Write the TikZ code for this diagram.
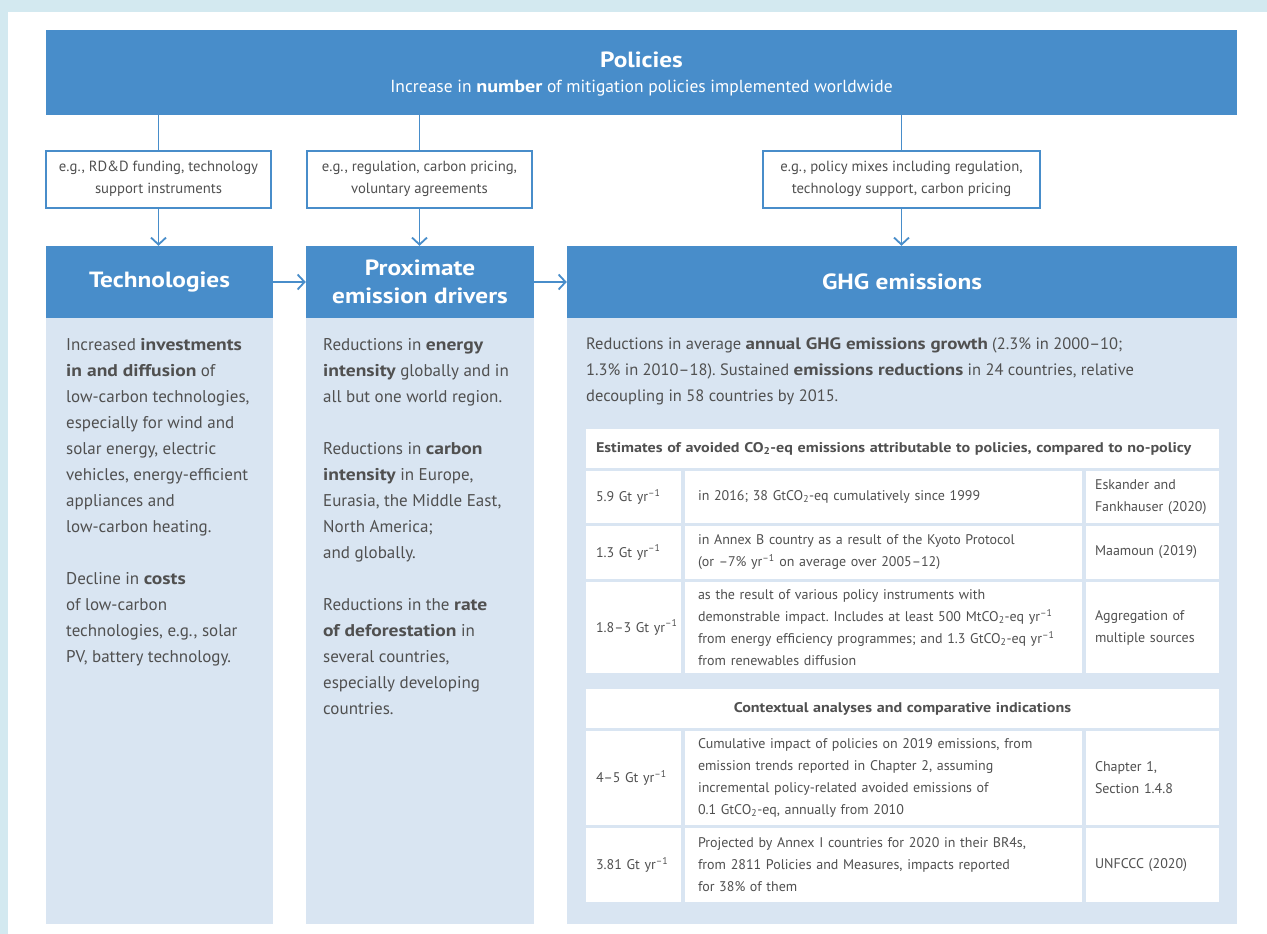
\documentclass[tikz,border=0pt]{standalone}
\usepackage{fontspec}
\setmainfont{PT Sans}[BoldFeatures={FakeStretch=1.15}]
\usetikzlibrary{arrows.meta}
\definecolor{hdrblue}{RGB}{72,141,202}
\definecolor{paleblue}{RGB}{217,229,242}
\definecolor{framebg}{RGB}{211,233,240}
\definecolor{txtgrey}{RGB}{80,80,80}
\newcommand{\yrinv}{yr\textsuperscript{–1}}
\newcommand{\cotwo}{CO\textsubscript{2}}
\frenchspacing

\begin{document}
\begin{tikzpicture}[x=1pt,y=-1pt,
  bar/.style={fill=hdrblue, inner sep=0pt},
  head/.style={bar, text=white, font=\bfseries\fontsize{22}{28}\selectfont, align=center},
  colbody/.style={fill=paleblue, inner sep=0pt},
  egbox/.style={draw=hdrblue, line width=2pt, fill=white, text=txtgrey, align=center,
    font=\fontsize{14.7}{22}\selectfont, minimum height=57pt, inner sep=0pt},
  bodytext/.style={anchor=north west, inner sep=0pt, align=left, text=txtgrey,
    font=\fontsize{17}{26}\selectfont},
  cell/.style={fill=white, text=txtgrey, align=left, inner ysep=0pt,
    font=\fontsize{14}{22}\selectfont},
  ca/.style={cell, text width=75pt, inner xsep=10pt, minimum height=#1},
  cb/.style={cell, text width=371pt, inner xsep=13pt, minimum height=#1},
  cc/.style={cell, text width=115pt, inner xsep=9pt, minimum height=#1},
  link/.style={draw=hdrblue, line width=1.8pt},
  flow/.style={link, -{Straight Barb[length=7pt,width=15pt]}}
]
\useasboundingbox (0,0) rectangle (1267,934);
\fill[framebg] (0,0) rectangle (1267,934);
\fill[white] (8,12) rectangle (1267,934);

% policies bar
\node[bar, minimum width=1191pt, minimum height=85pt] (pol) at (641.5,72.5) {};
\node[text=white, font=\bfseries\fontsize{22}{26}\selectfont] (poltitle) at (641.5,60) {Policies};
\node[text=white, font=\fontsize{17.5}{20}\selectfont] (polsub) at (641.5,88)
  {Increase in \textbf{number} of mitigation policies implemented worldwide};

% instrument examples
\node[egbox, minimum width=225pt] (eg1) at (158.5,179) {e.g., RD\&D funding, technology\\support instruments};
\node[egbox, minimum width=225pt] (eg2) at (419.5,179) {e.g., regulation, carbon pricing,\\voluntary agreements};
\node[egbox, minimum width=277pt] (eg3) at (901.5,179) {e.g., policy mixes including regulation,\\technology support, carbon pricing};

% column heads and bodies
\node[head, minimum width=227pt, minimum height=72pt] (tech) at (159.5,282) {Technologies};
\node[head, minimum width=228pt, minimum height=72pt] (prox) at (420,282) {Proximate\\emission drivers};
\node[head, minimum width=670pt, minimum height=72pt] (ghg) at (902,282) {GHG emissions};
\node[colbody, minimum width=227pt, minimum height=606pt] (techbody) at (159.5,621) {};
\node[colbody, minimum width=228pt, minimum height=606pt] (proxbody) at (420,621) {};
\node[colbody, minimum width=670pt, minimum height=606pt] (ghgbody) at (902,621) {};

\draw[link] (pol.south -| eg1.north) -- (eg1.north);
\draw[link] (pol.south -| eg2.north) -- (eg2.north);
\draw[link] (pol.south -| eg3.north) -- (eg3.north);
\draw[flow] (eg1.south) -- (eg1.south |- tech.north);
\draw[flow] (eg2.south) -- (eg2.south |- prox.north);
\draw[flow] (eg3.south) -- (eg3.south |- ghg.north);
\draw[flow] (tech.east) -- (prox.west);
\draw[flow] (prox.east) -- (ghg.west);

\node[bodytext] (techtext) at (66,338) {Increased \textbf{investments}\\
\textbf{in and diffusion} of\\
low-carbon technologies,\\
especially for wind and\\
solar energy, electric\\
vehicles, energy-efficient\\
appliances and\\
low-carbon heating.\\[26pt]
Decline in \textbf{costs}\\
of low-carbon\\
technologies, e.g., solar\\
PV, battery technology.};

\node[bodytext] (proxtext) at (323,338) {Reductions in \textbf{energy}\\
\textbf{intensity} globally and in\\
all but one world region.\\[26pt]
Reductions in \textbf{carbon}\\
\textbf{intensity} in Europe,\\
Eurasia, the Middle East,\\
North America;\\
and globally.\\[26pt]
Reductions in the \textbf{rate}\\
\textbf{of deforestation} in\\
several countries,\\
especially developing\\
countries.};

\node[bodytext, font=\fontsize{16.5}{26}\selectfont] (ghgtext) at (586,338) {Reductions in average \textbf{annual GHG emissions growth} (2.3\% in 2000--10;\\
1.3\% in 2010--18). Sustained \textbf{emissions reductions} in 24 countries, relative\\
decoupling in 58 countries by 2015.};

% table of avoided emissions
\node[cell, text width=613pt, inner xsep=10pt, minimum height=39pt, font=\bfseries\fontsize{14}{22}\selectfont] (esthead) at (902.5,448.5)
  {Estimates of avoided \cotwo-eq emissions attributable to policies, compared to no-policy};
\node[ca=52pt] (r1a) at (633.5,497) {\mbox{5.9 Gt \yrinv}};
\node[cb=52pt] (r1b) at (883.5,497) {in 2016; 38 Gt\cotwo-eq cumulatively since 1999};
\node[cc=52pt] (r1c) at (1152.5,497) {Eskander and\\Fankhauser (2020)};
\node[ca=53pt] (r2a) at (633.5,552.5) {\mbox{1.3 Gt \yrinv}};
\node[cb=53pt] (r2b) at (883.5,552.5) {in Annex B country as a result of the Kyoto Protocol\\(or –7\% \yrinv{} on average over 2005--12)};
\node[cc=53pt] (r2c) at (1152.5,552.5) {Maamoun (2019)};
\node[ca=91pt] (r3a) at (633.5,627.5) {\mbox{1.8--3 Gt \yrinv}};
\node[cb=91pt] (r3b) at (883.5,627.5) {as the result of various policy instruments with\\
demonstrable impact. Includes at least 500 Mt\cotwo-eq \yrinv\\
from energy efficiency programmes; and 1.3 Gt\cotwo-eq \yrinv\\
from renewables diffusion};
\node[cc=91pt] (r3c) at (1152.5,627.5) {Aggregation of\\multiple sources};

\node[cell, text width=613pt, inner xsep=10pt, minimum height=39pt, align=center, font=\bfseries\fontsize{14}{22}\selectfont] (ctxhead) at (902.5,708.5)
  {Contextual analyses and comparative indications};
\node[ca=94pt] (r4a) at (633.5,778) {\mbox{4--5 Gt \yrinv}};
\node[cb=94pt] (r4b) at (883.5,778) {Cumulative impact of policies on 2019 emissions, from\\
emission trends reported in Chapter 2, assuming\\
incremental policy-related avoided emissions of\\
0.1 Gt\cotwo-eq, annually from 2010};
\node[cc=94pt] (r4c) at (1152.5,778) {Chapter 1,\\Section 1.4.8};
\node[ca=74pt] (r5a) at (633.5,865) {\mbox{3.81 Gt \yrinv}};
\node[cb=74pt] (r5b) at (883.5,865) {Projected by Annex I countries for 2020 in their BR4s,\\
from 2811 Policies and Measures, impacts reported\\
for 38\% of them};
\node[cc=74pt] (r5c) at (1152.5,865) {UNFCCC (2020)};
\end{tikzpicture}
\end{document}
